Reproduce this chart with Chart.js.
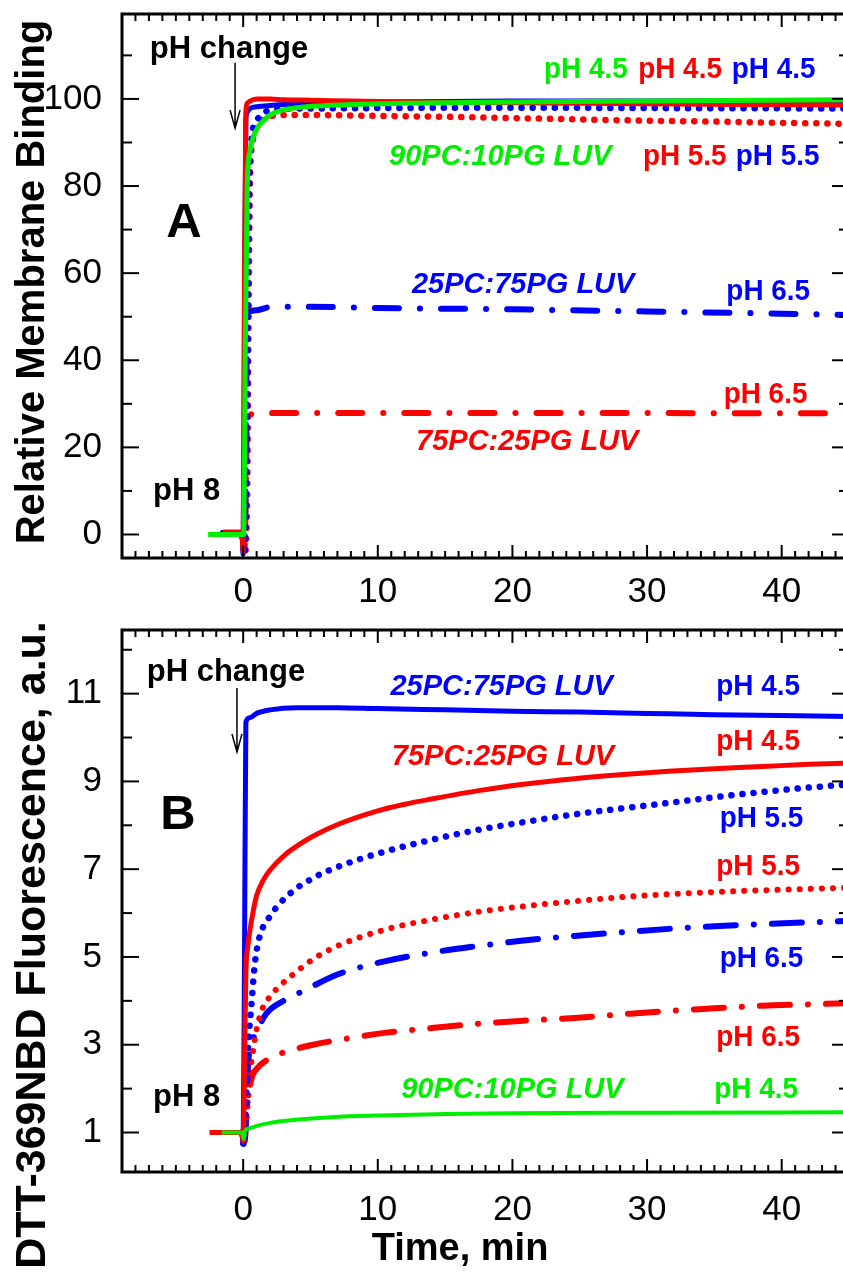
<!DOCTYPE html>
<html>
<head>
<meta charset="utf-8">
<script src="https://cdn.jsdelivr.net/npm/chart.js@4.4.1/dist/chart.umd.min.js"></script>
<style>
  html, body { margin: 0; padding: 0; background: #fff; }
  #wrap { position: relative; width: 843px; height: 1272px; overflow: hidden; background: #fff; }
  canvas { position: absolute; left: 0; }
  #chartA { top: 0; }
  #chartB { top: 615px; }
</style>
</head>
<body>
<div id="wrap">
  <canvas id="chartA" width="870" height="615"></canvas>
  <canvas id="chartB" width="870" height="657"></canvas>
</div>
<script>
// ---- tick labels ----
const xTicks = [0, 10, 20, 30, 40];
const yTicksA = [0, 20, 40, 60, 80, 100];
const yTicksB = [1, 3, 5, 7, 9, 11];

// ---- panel A: relative membrane binding ----
const tA_green45 = [-2.6, -1.5, -0.5, -0.1, 0.05, 0.15, 0.3, 0.5, 1, 1.5, 2, 3, 5, 8, 12, 20, 30, 45];
const A_green45  = [0, 0, 0, 0, 0, 40, 80, 88, 93, 95, 96.3, 97.5, 98.3, 98.7, 99, 99.3, 99.5, 99.8];

const tA_red45 = [-1.5, -0.5, -0.1, 0, 0.1, 0.2, 0.3, 0.5, 1, 2, 3, 5, 8, 12, 16, 20, 25, 30, 35, 40, 45];
const A_red45  = [0.5, 0.5, 0.5, -4, 60, 97, 99, 99.5, 100, 100, 99.8, 99.7, 99.5, 99.3, 99.2, 99.1, 99, 98.9, 98.8, 98.7, 98.6];

const tA_blue45 = [-1.5, -0.5, -0.1, 0, 0.1, 0.2, 0.3, 0.5, 1, 2, 5, 10, 20, 30, 45];
const A_blue45  = [0.5, 0.5, 0.5, -4.5, 50, 95, 97, 97.8, 98.2, 98.5, 99, 99.3, 99.5, 99.5, 99.5];

const tA_red55 = [-1.5, -0.1, 0.1, 0.3, 0.4, 0.5, 0.7, 1, 1.5, 2, 3, 5, 10, 15, 20, 25, 30, 35, 40, 45];
const A_red55  = [0.3, 0.3, -4.5, 10, 50, 80, 90, 93.5, 95.3, 96, 96.3, 96.3, 96.1, 95.9, 95.6, 95.3, 95, 94.8, 94.5, 94.3];

const tA_blue55 = [-1.5, -0.1, 0.1, 0.3, 0.4, 0.6, 1, 1.5, 2, 3, 5, 10, 20, 30, 45];
const A_blue55  = [0.3, 0.3, -4.5, 30, 70, 90, 95, 96.8, 97.4, 97.7, 97.8, 97.9, 98, 97.9, 97.8];

const tA_blue65 = [-1.5, -0.1, 0.1, 0.25, 0.35, 1, 2, 5, 10, 20, 30, 40, 45];
const A_blue65  = [0.3, 0.3, -3, 40, 51, 51.5, 52.2, 52.3, 52, 51.7, 51.2, 50.7, 50.4];

const tA_red65 = [-1.5, -0.1, 0.1, 0.3, 0.5, 1, 5, 20, 45];
const A_red65  = [0.3, 0.3, -4, 26, 27.5, 27.8, 27.9, 27.9, 27.8];

// ---- panel B: DTT-369NBD fluorescence ----
const tB_green45 = [-1.6, -0.1, 0.05, 0.15, 0.5, 1, 2, 3.5, 6.5, 10, 15, 20, 30, 45];
const B_green45  = [1.0, 1.0, 0.85, 1.05, 1.1, 1.15, 1.22, 1.28, 1.35, 1.39, 1.42, 1.44, 1.45, 1.46];

const tB_red45 = [-2.5, -0.1, 0, 0.1, 0.2, 0.35, 0.5, 0.75, 1, 1.5, 2, 3, 4.2, 5.5, 7.2, 10, 12, 14, 17.5, 21, 24.6, 28, 31.6, 35, 38.6, 42, 45];
const B_red45  = [1.0, 1.0, 0.8, 2.5, 4.6, 5.25, 5.6, 6.05, 6.4, 6.75, 6.98, 7.3, 7.57, 7.8, 8.04, 8.33, 8.48, 8.6, 8.79, 8.94, 9.06, 9.15, 9.23, 9.29, 9.34, 9.39, 9.42];

const tB_blue45 = [-1.5, -0.1, 0, 0.1, 0.2, 0.5, 1, 2, 4, 7, 10, 15, 20, 25, 30, 35, 40, 45];
const B_blue45  = [1.0, 1.0, 0.75, 5, 10.35, 10.45, 10.55, 10.63, 10.68, 10.68, 10.66, 10.63, 10.6, 10.58, 10.55, 10.52, 10.5, 10.48];

const tB_blue55 = [-0.1, 0.05, 0.2, 0.3, 0.45, 0.64, 0.85, 1.17, 2.05, 3.5, 5.2, 7, 10.5, 14, 17.5, 21, 24.6, 28, 31.6, 35, 38.6, 42, 45];
const B_blue55  = [1.0, 0.7, 1.5, 2.5, 3.3, 4.0, 4.8, 5.4, 5.95, 6.45, 6.8, 7.05, 7.4, 7.67, 7.9, 8.08, 8.25, 8.38, 8.51, 8.64, 8.76, 8.86, 8.93];

const tB_red55 = [-0.1, 0.1, 0.3, 0.5, 0.75, 1, 1.4, 2, 2.75, 3.5, 5.2, 7, 10.5, 14, 17.5, 21, 24.6, 28, 31.6, 35, 38.6, 42, 45];
const B_red55  = [1.0, 0.8, 1.5, 2.3, 2.9, 3.35, 3.8, 4.1, 4.35, 4.55, 4.95, 5.25, 5.62, 5.85, 6.03, 6.16, 6.27, 6.36, 6.43, 6.48, 6.52, 6.55, 6.58];

const tB_blue65 = [-0.1, 0.1, 0.25, 0.37, 0.6, 1, 1.7, 3, 4.5, 7, 10.5, 14, 17.5, 21, 24.6, 28, 31.6, 35, 38.6, 42, 45];
const B_blue65  = [1.0, 0.8, 1.8, 2.6, 3.0, 3.3, 3.7, 4.0, 4.23, 4.6, 4.9, 5.1, 5.25, 5.38, 5.48, 5.56, 5.64, 5.7, 5.75, 5.79, 5.82];

const tB_red65 = [-0.1, 0.1, 0.3, 0.64, 1, 2.05, 3.5, 5.2, 7.5, 10.5, 14, 17.5, 21, 24.6, 28, 31.6, 35, 38.6, 42, 45];
const B_red65  = [1.0, 0.8, 1.6, 2.25, 2.45, 2.7, 2.87, 3.0, 3.13, 3.27, 3.38, 3.48, 3.55, 3.61, 3.69, 3.77, 3.83, 3.89, 3.92, 3.95];

// ---- styling ----
const RED = '#ff0000', BLUE = '#0000ff', GREEN = '#00ee00';
const FONT = "'Liberation Sans', Arial, sans-serif";
const SOLID = [], DOT = [0.1, 11], DASHDOT_A = [24, 21, 0.1, 21], DASHDOT_B = [30, 18, 0.1, 18];

function pts(t, v) { return t.map((x, i) => ({ x: x, y: v[i] })); }
function series(t, v, color, dash, width) {
  return {
    data: pts(t, v), borderColor: color, borderWidth: width, borderDash: dash,
    borderCapStyle: dash.length ? 'round' : 'butt', borderJoinStyle: 'round',
    pointRadius: 0, fill: false, cubicInterpolationMode: 'monotone'
  };
}

// frame with inward ticks on all four sides
const framePlugin = {
  id: 'frame',
  afterDatasetsDraw(chart, args, o) {
    const { ctx, chartArea: a, scales: { x, y } } = chart;
    ctx.save();
    ctx.strokeStyle = '#000';
    ctx.lineCap = 'butt';
    ctx.lineWidth = 2;
    const seg = (x1, y1, x2, y2) => { ctx.beginPath(); ctx.moveTo(x1, y1); ctx.lineTo(x2, y2); ctx.stroke(); };
    for (let v = Math.ceil(x.min); v <= x.max; v += o.xMinor) {
      const p = x.getPixelForValue(v);
      const len = xTicks.includes(v) ? 13 : 7;
      seg(p, a.bottom, p, a.bottom - len);
      seg(p, a.top, p, a.top + len);
    }
    for (let v = o.yMinorStart; v <= y.max; v += o.yMinor) {
      if (v < y.min) continue;
      const p = y.getPixelForValue(v);
      const len = o.yMajor.includes(v) ? 17 : 10;
      seg(a.left, p, a.left + len, p);
      seg(a.right, p, a.right - len, p);
    }
    ctx.lineWidth = 3;
    ctx.strokeRect(a.left, a.top, a.right - a.left, a.bottom - a.top);
    ctx.restore();
  }
};

// text notes placed in data coordinates, plus the pH change arrow and axis titles
const notesPlugin = {
  id: 'notes',
  afterDraw(chart, args, o) {
    const { ctx, scales: { x, y } } = chart;
    ctx.save();
    ctx.textAlign = 'center';
    ctx.textBaseline = 'middle';
    for (const n of o.items) {
      ctx.save();
      ctx.translate(x.getPixelForValue(n.x), y.getPixelForValue(n.y));
      ctx.scale(n.sx || 1, 1);
      ctx.font = n.font;
      ctx.fillStyle = n.color;
      ctx.fillText(n.text, 0, 0);
      ctx.restore();
    }
    const ar = o.arrow;
    const ax = x.getPixelForValue(ar.x), y1 = y.getPixelForValue(ar.y1), y2 = y.getPixelForValue(ar.y2);
    ctx.strokeStyle = '#000';
    ctx.lineWidth = 1.5;
    ctx.beginPath(); ctx.moveTo(ax, y1); ctx.lineTo(ax, y2);
    ctx.moveTo(ax - 5, y2 - 18); ctx.lineTo(ax, y2); ctx.lineTo(ax + 5, y2 - 18);
    ctx.stroke();
    for (const t of o.titles) {
      ctx.save();
      ctx.translate(t.px, t.py);
      ctx.rotate(t.rot);
      ctx.font = t.font;
      ctx.fillStyle = '#000';
      ctx.fillText(t.text, 0, 0);
      ctx.restore();
    }
    ctx.restore();
  }
};

const B29 = 'bold 30px ' + FONT, BI29 = 'italic bold 29px ' + FONT, B31 = 'bold 31px ' + FONT;
const SQ = 0.93;

function noPad(s) { s.paddingTop = 0; s.paddingBottom = 0; s.paddingLeft = 0; s.paddingRight = 0; }

function makeChart(id, datasets, yMin, yMax, yTicks, frameOpts, notes, padTop, xScaleH, xPad) {
  return new Chart(document.getElementById(id), {
    type: 'line',
    data: { datasets: datasets },
    options: {
      animation: false, responsive: false, maintainAspectRatio: false,
      layout: { padding: { top: padTop, right: 21, left: 0, bottom: 0 } },
      plugins: { legend: { display: false }, tooltip: { enabled: false }, frame: frameOpts, notes: notes },
      scales: {
        x: {
          type: 'linear', min: -9, max: 45,
          afterBuildTicks: s => { s.ticks = xTicks.map(v => ({ value: v })); },
          afterFit: s => { s.height = xScaleH; noPad(s); },
          grid: { display: false, drawTicks: false }, border: { display: false },
          ticks: { color: '#000', font: { family: FONT, size: 35 }, padding: xPad, maxRotation: 0 }
        },
        y: {
          type: 'linear', min: yMin, max: yMax,
          afterBuildTicks: s => { s.ticks = yTicks.map(v => ({ value: v })); },
          afterFit: s => { s.width = 122; noPad(s); },
          grid: { display: false, drawTicks: false }, border: { display: false },
          ticks: { color: '#000', font: { family: FONT, size: 35 }, padding: 20 }
        }
      }
    },
    plugins: [framePlugin, notesPlugin]
  });
}

makeChart('chartA', [
  series(tA_green45, A_green45, GREEN, SOLID, 5),
  series(tA_red45, A_red45, RED, SOLID, 5),
  series(tA_blue45, A_blue45, BLUE, SOLID, 5),
  series(tA_blue55, A_blue55, BLUE, DOT, 6.5),
  series(tA_red55, A_red55, RED, DOT, 6.5),
  series(tA_blue65, A_blue65, BLUE, DASHDOT_A, 6),
  series(tA_red65, A_red65, RED, DASHDOT_A, 6)
], -5.4, 119.5, yTicksA, { xMinor: 1, yMinor: 10, yMinorStart: 0, yMajor: yTicksA }, {
  items: [
    { text: 'pH change', x: -1.05, y: 111.3, color: '#000', font: B31 },
    { text: 'pH 4.5', x: 25.45, y: 106.7, color: GREEN, font: B29, sx: SQ },
    { text: 'pH 4.5', x: 32.45, y: 106.7, color: RED, font: B29, sx: SQ },
    { text: 'pH 4.5', x: 39.4, y: 106.7, color: BLUE, font: B29, sx: SQ },
    { text: '90PC:10PG LUV', x: 19.1, y: 86.7, color: GREEN, font: BI29 },
    { text: 'pH 5.5', x: 32.8, y: 86.7, color: RED, font: B29, sx: SQ },
    { text: 'pH 5.5', x: 39.7, y: 86.7, color: BLUE, font: B29, sx: SQ },
    { text: 'A', x: -4.4, y: 71.5, color: '#000', font: 'bold 49px ' + FONT },
    { text: '25PC:75PG LUV', x: 20.8, y: 57.3, color: BLUE, font: BI29 },
    { text: 'pH 6.5', x: 39.0, y: 55.7, color: BLUE, font: B29, sx: SQ },
    { text: 'pH 6.5', x: 38.8, y: 32.0, color: RED, font: B29, sx: SQ },
    { text: '75PC:25PG LUV', x: 21.1, y: 21.2, color: RED, font: BI29 },
    { text: 'pH 8', x: -4.2, y: 9.8, color: '#000', font: B31 }
  ],
  arrow: { x: -0.6, y1: 108.3, y2: 93.3 },
  titles: [
    { text: 'Relative Membrane Binding', px: 33, py: 282, rot: -Math.PI / 2, font: 'bold 40px ' + FONT }
  ]
}, 14, 57, 13);

makeChart('chartB', [
  series(tB_green45, B_green45, GREEN, SOLID, 4),
  series(tB_red45, B_red45, RED, SOLID, 5),
  series(tB_blue45, B_blue45, BLUE, SOLID, 5),
  series(tB_blue55, B_blue55, BLUE, DOT, 6.5),
  series(tB_red55, B_red55, RED, DOT, 6),
  series(tB_blue65, B_blue65, BLUE, DASHDOT_B, 6),
  series(tB_red65, B_red65, RED, DASHDOT_B, 6)
], 0.1, 12.45, yTicksB, { xMinor: 1, yMinor: 1, yMinorStart: 1, yMajor: yTicksB }, {
  items: [
    { text: 'pH change', x: -1.28, y: 11.49, color: '#000', font: B31 },
    { text: '25PC:75PG LUV', x: 19.2, y: 11.15, color: BLUE, font: BI29 },
    { text: 'pH 4.5', x: 38.25, y: 11.15, color: BLUE, font: B29, sx: SQ },
    { text: '75PC:25PG LUV', x: 19.3, y: 9.55, color: RED, font: BI29 },
    { text: 'pH 4.5', x: 38.25, y: 9.9, color: RED, font: B29, sx: SQ },
    { text: 'B', x: -4.85, y: 8.23, color: '#000', font: 'bold 49px ' + FONT },
    { text: 'pH 5.5', x: 38.5, y: 8.16, color: BLUE, font: B29, sx: SQ },
    { text: 'pH 5.5', x: 38.25, y: 7.05, color: RED, font: B29, sx: SQ },
    { text: 'pH 6.5', x: 38.5, y: 4.97, color: BLUE, font: B29, sx: SQ },
    { text: 'pH 6.5', x: 38.25, y: 3.15, color: RED, font: B29, sx: SQ },
    { text: '90PC:10PG LUV', x: 20.0, y: 1.97, color: GREEN, font: BI29 },
    { text: 'pH 4.5', x: 38.1, y: 1.97, color: GREEN, font: B29, sx: SQ },
    { text: 'pH 8', x: -4.2, y: 1.79, color: '#000', font: B31 }
  ],
  arrow: { x: -0.46, y1: 11.13, y2: 9.67 },
  titles: [
    { text: 'DTT-369NBD Fluorescence, a.u.', px: 33, py: 330, rot: -Math.PI / 2, font: 'bold 43px ' + FONT },
    { text: 'Time, min', px: 460, py: 635, rot: 0, font: 'bold 38px ' + FONT }
  ]
}, 15, 100, 17);
</script>
</body>
</html>
